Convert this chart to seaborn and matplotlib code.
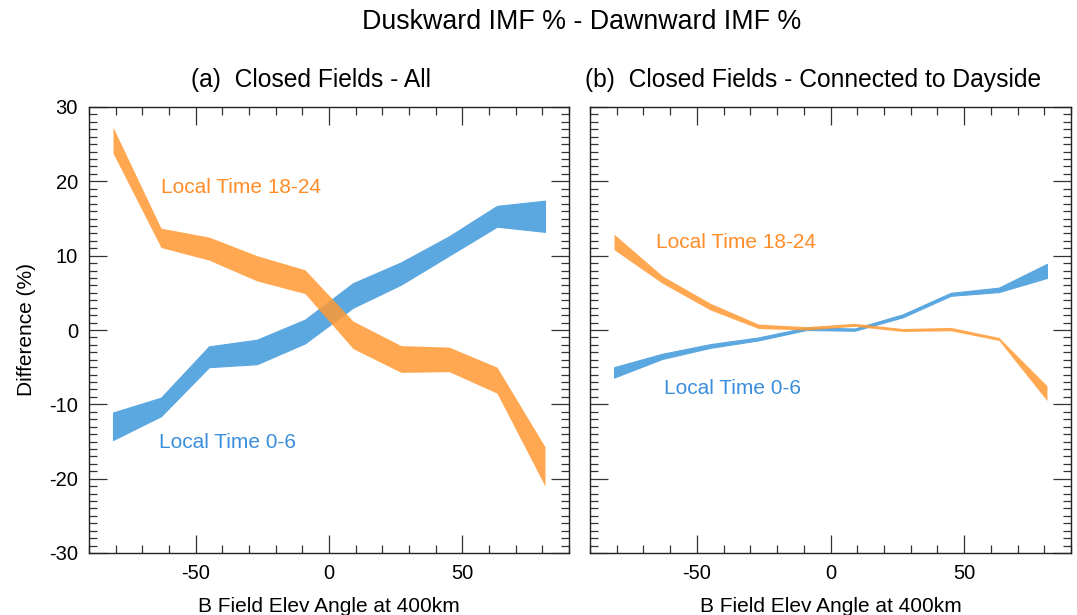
import numpy as np
import matplotlib
matplotlib.use("Agg")
import matplotlib.pyplot as plt
import seaborn as sns
from matplotlib.ticker import MultipleLocator

# Data
angles = [-81, -63, -45, -27, -9, 9, 27, 45, 63, 81]

a_dusk_hi = [27.3, 13.7, 12.5, 10.0, 8.1, 1.2, -2.1, -2.3, -5.0, -15.7]
a_dusk_lo = [23.8, 11.1, 9.4, 6.6, 4.9, -2.5, -5.7, -5.6, -8.5, -21.0]
a_dawn_hi = [-11.1, -9.1, -2.2, -1.3, 1.4, 6.3, 9.1, 12.6, 16.7, 17.4]
a_dawn_lo = [-14.8, -11.6, -5.0, -4.6, -1.8, 3.0, 6.1, 10.0, 13.9, 13.2]

b_dusk_hi = [12.9, 7.3, 3.6, 0.8, 0.45, 0.9, 0.2, 0.35, -1.0, -7.5]
b_dusk_lo = [10.8, 6.3, 2.7, 0.2, 0.0, 0.5, -0.2, -0.1, -1.4, -9.5]
b_dawn_hi = [-5.0, -3.2, -1.9, -1.0, 0.35, 0.2, 2.1, 5.0, 5.7, 8.9]
b_dawn_lo = [-6.4, -3.9, -2.4, -1.4, 0.0, -0.1, 1.7, 4.6, 5.1, 7.0]

title = "Duskward IMF % - Dawnward IMF %"
panel_titles = ["(a)  Closed Fields - All", "(b)  Closed Fields - Connected to Dayside"]
xlabel = "B Field Elev Angle at 400km"
ylabel = "Difference (%)"
label_dusk = "Local Time 18-24"
label_dawn = "Local Time 0-6"

sns.set_theme(style="ticks")
plt.rcParams['font.family'] = ['Liberation Sans', 'DejaVu Sans']
plt.rcParams['axes.unicode_minus'] = False
for k in ['text.color', 'axes.labelcolor', 'xtick.labelcolor', 'ytick.labelcolor']:
    plt.rcParams[k] = 'black'

band_orange = "#FF9933"
band_blue = "#5BA7E0"
text_orange = "#FF8C26"
text_blue = "#3A8EDB"

fig = plt.figure(figsize=(10.77, 6.15), dpi=100)
W, H = 1077, 615
ax1 = fig.add_axes([89 / W, 1 - 553 / H, 480 / W, 446 / H])
ax2 = fig.add_axes([590 / W, 1 - 553 / H, 481 / W, 446 / H])

panels = [
    (ax1, a_dusk_hi, a_dusk_lo, a_dawn_hi, a_dawn_lo,
     (-62.9, 19.2), (-63.6, -15.2)),
    (ax2, b_dusk_hi, b_dusk_lo, b_dawn_hi, b_dawn_lo,
     (-65.4, 11.75), (-62.3, -7.9)),
]

for ax, dh, dl, wh, wl, pos_d, pos_w in panels:
    ax.fill_between(angles, wl, wh, color=band_blue, alpha=1.0, lw=0.8,
                    edgecolor=band_blue)
    ax.fill_between(angles, dl, dh, color=band_orange, alpha=0.85, lw=0.0)
    ax.set_xlim(-90, 90)
    ax.set_ylim(-30, 30)
    ax.xaxis.set_major_locator(MultipleLocator(50))
    ax.xaxis.set_minor_locator(MultipleLocator(10))
    ax.yaxis.set_major_locator(MultipleLocator(10))
    ax.yaxis.set_minor_locator(MultipleLocator(1))
    ax.tick_params(which="both", direction="in", top=True, right=True,
                   bottom=True, left=True, color="#333333", width=0.9,
                   labelsize=14.5, pad=8)
    ax.tick_params(which="major", length=13)
    ax.tick_params(which="minor", length=6)
    for s in ax.spines.values():
        s.set_color("#222222")
        s.set_linewidth(1.0)
    ax.set_xlabel(xlabel, fontsize=15, labelpad=10)
    ax.text(pos_d[0], pos_d[1], label_dusk, color=text_orange, fontsize=15,
            va="center", ha="left")
    ax.text(pos_w[0], pos_w[1], label_dawn, color=text_blue, fontsize=15,
            va="center", ha="left")

ax1.set_ylabel(ylabel, fontsize=15, labelpad=9)
ax2.tick_params(labelleft=False)

fig.text(362 / W, 1 - 22 / H, title, ha="left", va="center", fontsize=19.3)
fig.text(191 / W, 1 - 80 / H, panel_titles[0], ha="left", va="center", fontsize=17.7)
fig.text(585 / W, 1 - 80 / H, panel_titles[1], ha="left", va="center", fontsize=17.7)

fig.savefig("out.png", dpi=100, facecolor="white")
